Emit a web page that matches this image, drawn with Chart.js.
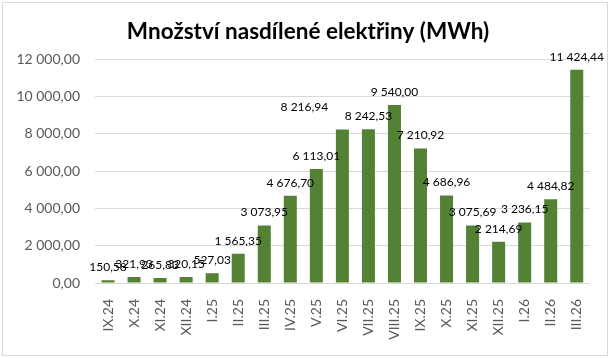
<!DOCTYPE html>
<html>
<head>
<meta charset="utf-8">
<script src="https://cdn.jsdelivr.net/npm/chart.js@4"></script>
<style>
body{margin:0;background:#fff;}
#wrap{width:610px;height:358px;}
</style>
</head>
<body>
<div id="wrap"><canvas id="myChart"></canvas></div>
<script>
// obdobi a hodnoty (MWh)
const mesice = ["IX.24", "X.24", "XI.24", "XII.24", "I.25", "II.25", "III.25", "IV.25", "V.25", "VI.25",
                "VII.25", "VIII.25", "IX.25", "X.25", "XI.25", "XII.25", "I.26", "II.26", "III.26"];
const hodnoty = [150.58, 321.93, 265.83, 320.15, 527.03, 1565.35, 3073.95, 4676.70, 6113.01, 8216.94,
                 8242.53, 9540.00, 7210.92, 4686.96, 3075.69, 2214.69, 3236.15, 4484.82, 11424.44];
const osaY = [0, 2000, 4000, 6000, 8000, 10000, 12000];
const nadpis = "Množství nasdílené elektřiny (MWh)";

// popisek VI.25 je v originale posunuty doleva
const posunPopisku = {9: [-38, -9]};

function cislo(v){
    let s = v.toFixed(2).split('.');
    let cele = s[0].replace(/\B(?=(\d{3})+(?!\d))/g, ' ');
    return cele + ',' + s[1];
}

// ramecek + nadpis
const ramecek = {
    id: 'ramecek',
    beforeDraw(chart){
        const ctx = chart.ctx;
        ctx.save();
        ctx.fillStyle = '#fff';
        ctx.fillRect(0, 0, chart.width, chart.height);
        ctx.strokeStyle = '#d9d9d9';
        ctx.lineWidth = 1;
        ctx.strokeRect(2.5, 2.5, chart.width - 5, chart.height - 5);
        ctx.font = 'bold 22.5px Lato';
        ctx.fillStyle = '#000';
        ctx.textAlign = 'center';
        ctx.textBaseline = 'alphabetic';
        ctx.fillText(nadpis, 308, 39);
        ctx.restore();
    }
};

const popisky = {
    id: 'popisky',
    afterDatasetsDraw(chart){
        const ctx = chart.ctx;
        const meta = chart.getDatasetMeta(0);
        ctx.save();
        ctx.font = '12px Lato';
        ctx.fillStyle = '#000';
        ctx.textAlign = 'center';
        ctx.textBaseline = 'middle';
        meta.data.forEach((bar, i) => {
            const p = posunPopisku[i] || [0, 0];
            ctx.fillText(cislo(hodnoty[i]), bar.x + p[0], bar.y - 13 + p[1]);
        });
        ctx.restore();
    }
};

new Chart("myChart", {
    type: "bar",
    data: {
        labels: mesice,
        datasets: [{
            label: nadpis,
            data: hodnoty,
            backgroundColor: "#548235",
            barPercentage: 0.5,
            categoryPercentage: 1
        }]
    },
    options: {
        responsive: true,
        maintainAspectRatio: false,
        animation: false,
        layout: {padding: {left: 0, right: 17, top: 59, bottom: 0}},
        plugins: {
            legend: {display: false},
            tooltip: {enabled: false},
            title: {display: false}
        },
        scales: {
            x: {
                grid: {display: false, drawTicks: false},
                border: {color: "#d9d9d9"},
                ticks: {
                    minRotation: 90, maxRotation: 90, autoSkip: false,
                    color: "#595959", font: {family: "Lato", size: 14}, padding: 16
                },
                afterFit(s){ s.height = 75; }
            },
            y: {
                min: 0, max: 12000,
                afterBuildTicks(s){ s.ticks = osaY.map(v => ({value: v})); },
                grid: {color: "#d9d9d9", drawTicks: false},
                border: {display: false},
                ticks: {
                    color: "#595959", font: {family: "Lato", size: 14}, padding: 15,
                    callback: v => cislo(v)
                },
                afterFit(s){ s.width = 95; }
            }
        }
    },
    plugins: [ramecek, popisky]
});
</script>
</body>
</html>
